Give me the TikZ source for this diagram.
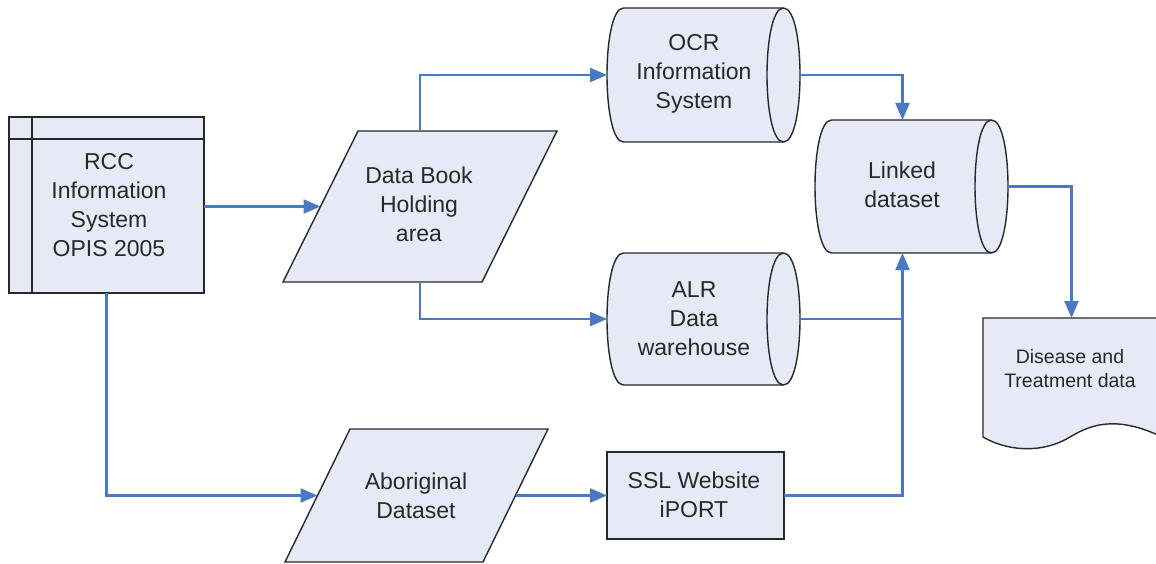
\documentclass[tikz,border=0pt]{standalone}
\usepackage{fontspec}
\setmainfont{Liberation Sans}
\usetikzlibrary{arrows.meta,calc}
\definecolor{shapefill}{RGB}{229,234,246}
\definecolor{flowblue}{RGB}{72,121,195}
\definecolor{inkgrey}{RGB}{40,40,40}

\tikzset{
  frame/.style 2 args={minimum width=#1, minimum height=#2, inner sep=0pt, outer sep=0pt},
  outline/.style={draw=inkgrey, line width=1.4pt, fill=shapefill, line join=miter},
  lbl/.style={font=\fontsize{23}{29}\selectfont, align=center, text=inkgrey, inner sep=0pt},
  smalllbl/.style={font=\fontsize{19.5}{23.5}\selectfont, align=center, text=inkgrey, inner sep=0pt},
  flow/.style={draw=flowblue, line width=2.2pt, -{Triangle[length=17pt,width=14pt]}},
  flowline/.style={draw=flowblue, line width=2.2pt},
}

% horizontal data-store cylinder inside the frame node #1
\newcommand\cylpath[1]{%
  \path[outline] ([xshift=16.5pt]#1.north west) -- ([xshift=-16.5pt]#1.north east)
    .. controls ([xshift=5.5pt]#1.north east) and ([xshift=5.5pt]#1.south east) .. ([xshift=-16.5pt]#1.south east)
    -- ([xshift=16.5pt]#1.south west)
    .. controls ([xshift=-5.5pt]#1.south west) and ([xshift=-5.5pt]#1.north west) .. ([xshift=16.5pt]#1.north west) -- cycle;
  \draw[outline, fill=none] ([xshift=-16.5pt]#1.north east)
    .. controls ([xshift=-38.5pt]#1.north east) and ([xshift=-38.5pt]#1.south east) .. ([xshift=-16.5pt]#1.south east);
}
% parallelogram inside the frame node #1 with horizontal slant #2
\newcommand\parapath[2]{%
  \path[outline] ([xshift=#2]#1.north west) -- (#1.north east) -- ([xshift=-#2]#1.south east) -- (#1.south west) -- cycle;
  \coordinate (#1-l) at ([xshift=#2/2]#1.west);
  \coordinate (#1-r) at ([xshift=-#2/2]#1.east);
}

\begin{document}
\begin{tikzpicture}[x=1pt,y=-1pt]
\fill[white] (0,0) rectangle (1156,564);
\useasboundingbox (0,0) rectangle (1156,564);

% frames
\node[frame={274pt}{151pt}] (DB) at (420,206.5) {};
\node[frame={193pt}{134pt}] (OCR) at (703.5,75) {};
\node[frame={193pt}{132pt}] (ALR) at (703.5,319) {};
\node[frame={193pt}{133pt}] (LK) at (911.5,186.5) {};
\node[frame={177pt}{122pt}] (DT) at (1071.5,379) {};
\node[frame={263pt}{133pt}] (AB) at (416.5,495.5) {};

% source system with its header strip and side column
\node[frame={195pt}{176pt}, outline] (RCC) at (106.5,205) {};
\draw[draw=inkgrey, line width=1.4pt] ([xshift=23pt]RCC.north west) -- ([xshift=23pt]RCC.south west);
\draw[draw=inkgrey, line width=1.4pt] ([yshift=-22pt]RCC.north west) -- ([yshift=-22pt]RCC.north east);

\node[frame={177pt}{87pt}, outline] (SSL) at (695.5,495.5) {};

\parapath{DB}{75pt}
\parapath{AB}{65pt}
\cylpath{OCR}
\cylpath{ALR}
\cylpath{LK}

% document with a wavy lower edge
\path[outline] (DT.north west) -- (DT.north east) -- (1160,436)
  .. controls (1115,415) and (1090,425) .. (1070,437)
  .. controls (1040,455) and (1005,450) .. (983,437) -- cycle;

% labels
\node[lbl] (RCC-t) at (109,205) {RCC\\Information\\System\\OPIS 2005};
\node[lbl] (DB-t) at (419,204) {Data Book\\Holding\\area};
\node[lbl] (OCR-t) at (694,74) {OCR\\Information\\System};
\node[lbl] (ALR-t) at (694,318.5) {ALR\\Data\\warehouse};
\node[lbl] (LK-t) at (902,185) {Linked\\dataset};
\node[smalllbl] (DT-t) at (1070,368.5) {Disease and\\Treatment data};
\node[lbl] (AB-t) at (416,496) {Aboriginal\\Dataset};
\node[lbl] (SSL-t) at (694,495) {SSL Website\\iPORT};

% connectors
\coordinate (LK-top) at ([xshift=-9pt]LK.north);
\coordinate (LK-bot) at ([xshift=-9pt]LK.south);
\draw[flow] (RCC.east |- DB-l) -- (DB-l);
\draw[flow] (DB.north) |- (OCR.west);
\draw[flow] (DB.south) |- (ALR.west);
\draw[flow] (OCR.east) -| (LK-top);
\draw[flowline] (ALR.east) -- (ALR.east -| LK-bot);
\draw[flow] (SSL.east) -| (LK-bot);
\draw[flow] (LK.east) -| (DT.north);
\draw[flow] (RCC.south) |- (AB-l);
\draw[flow] (AB-r) -- (SSL.west |- AB-r);
\end{tikzpicture}
\end{document}
